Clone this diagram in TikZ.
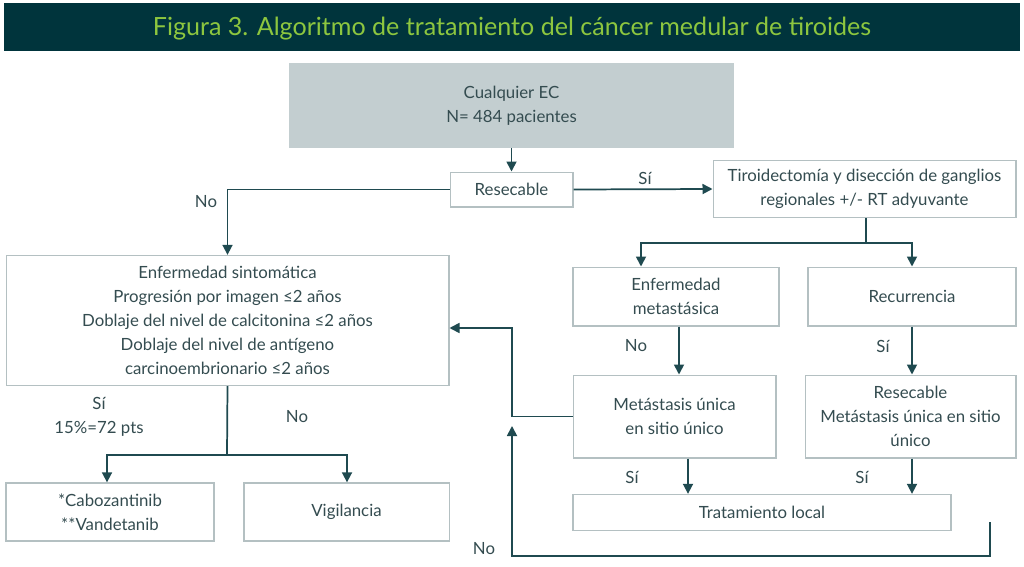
\documentclass[tikz,border=0pt]{standalone}
\usepackage{fontspec}
\setmainfont{Lato}
\usetikzlibrary{arrows.meta}
\definecolor{bar}{HTML}{00343C}
\definecolor{titlec}{HTML}{8DC63F}
\definecolor{boxfill}{HTML}{C3CED0}
\definecolor{boxline}{HTML}{B4C0C2}
\definecolor{linec}{HTML}{1F4A50}
\definecolor{txt}{HTML}{344C50}
\tikzset{
  every node/.style={text=txt, font=\fontsize{12.6}{18}\selectfont},
  bx/.style={draw=boxline, line width=1pt, inner sep=0pt, align=center},
  conn/.style={draw=linec, line width=1.3pt},
  arr/.style={conn, -{Triangle[length=7.5pt,width=7.5pt]}},
  lbl/.style={align=center},
}
\begin{document}
\begin{tikzpicture}[x=0.75pt,y=-0.75pt]
\useasboundingbox (0,0) rectangle (1024,567);
\fill[white] (0,0) rectangle (1024,567);
% title
\fill[bar] (4,3) rectangle (1020,51);
\node[text=titlec, font=\fontsize{18.8}{20}\selectfont] (title) at (512,29) {Figura 3. Algoritmo de tratamiento del cáncer medular de tiroides};
% boxes
\node[fill=boxfill, inner sep=0pt, align=center, minimum width=334pt, minimum height=63pt] (top) at (511.5,105.5) {Cualquier EC\\N= 484 pacientes};
\node[bx, minimum width=92pt, minimum height=26pt] (res) at (511.5,189.5) {Resecable};
\node[bx, minimum width=227pt, minimum height=43pt] (tir) at (864.5,189) {Tiroidectomía y disección de ganglios\\regionales +/- RT adyuvante};
\node[bx, minimum width=154.5pt, minimum height=44pt] (met) at (676,296.5) {Enfermedad\\metastásica};
\node[bx, minimum width=156pt, minimum height=44pt] (rec) at (912,296.5) {Recurrencia};
\node[bx, minimum width=152pt, minimum height=62pt] (uni) at (674.5,416.5) {Metástasis única\\en sitio único};
\node[bx, minimum width=158pt, minimum height=62pt] (rmu) at (910.5,416.5) {Resecable\\Metástasis única en sitio\\único};
\node[bx, minimum width=332pt, minimum height=97.5pt] (sin) at (227.5,320.5) {Enfermedad sintomática\\Progresión por imagen ≤2 años\\Doblaje del nivel de calcitonina ≤2 años\\Doblaje del nivel de antígeno\\carcinoembrionario ≤2 años};
\node[bx, minimum width=156pt, minimum height=43.5pt] (cab) at (110,512) {*Cabozantinib\\**Vandetanib};
\node[bx, minimum width=154pt, minimum height=43.5pt] (vig) at (346.5,512) {Vigilancia};
\node[bx, minimum width=283.5pt, minimum height=27pt] (tl) at (762,512.5) {Tratamiento local};
% coordinates
\coordinate (c1) at (990,522);
\coordinate (c2) at (512,426);
% connectors
\draw[arr] (top.south) -- (res.north);
\draw[arr] (res.west) -| (sin.north);
\draw[arr] (res.east) -- (tir.west);
\draw[conn] (tir.south -| 866,0) -- (866,243);
\draw[arr] (866,243) -| (met.north -| 641,0);
\draw[arr] (866,243) -| (rec.north);
\draw[arr] (met.south -| 679,0) -- (uni.north -| 679,0);
\draw[arr] (rec.south) -- (rmu.north -| 912,0);
\draw[arr] (uni.west) -| (512,328) -- (sin.east |- 0,328);
\draw[conn] (sin.south) -- (227,455);
\draw[arr] (227,455) -| (cab.north -| 107,0);
\draw[arr] (227,455) -| (vig.north -| 347,0);
\draw[arr] (uni.south -| 688,0) -- (tl.north -| 688,0);
\draw[arr] (rmu.south -| 912,0) -- (tl.north -| 912,0);
\draw[arr] (c1) -- (990,556) -- (512,556) -- (c2);
% labels
\node[lbl] (l1) at (206,202) {No};
\node[lbl] (l2) at (645,178) {Sí};
\node[lbl] (l3) at (636,346) {No};
\node[lbl] (l4) at (883,346) {Sí};
\node[lbl] (l5) at (99,417) {Sí\\15\%=72 pts};
\node[lbl] (l6) at (297,417) {No};
\node[lbl] (l7) at (632,477) {Sí};
\node[lbl] (l8) at (862,477) {Sí};
\node[lbl] (l9) at (484,549) {No};
\end{tikzpicture}
\end{document}
